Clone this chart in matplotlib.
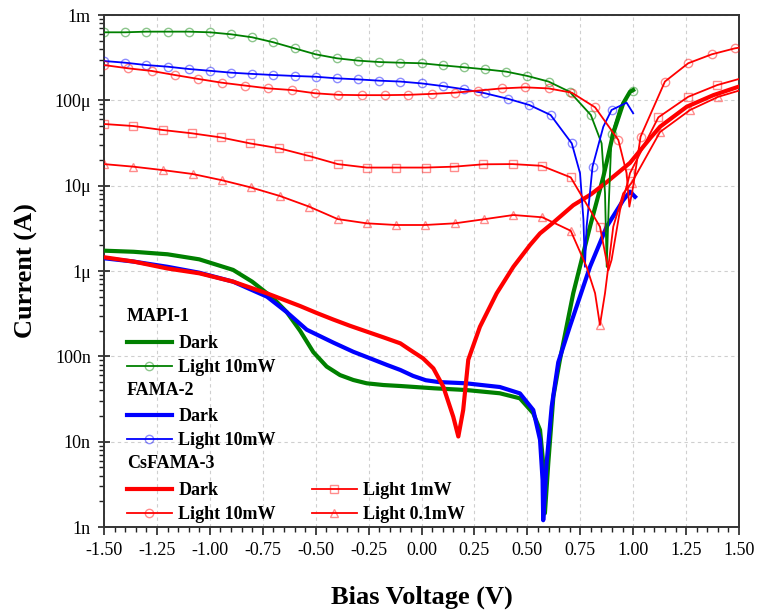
import numpy as np
import matplotlib
matplotlib.use("Agg")
import matplotlib.pyplot as plt
from matplotlib.lines import Line2D
from matplotlib.ticker import FixedLocator, FixedFormatter, MultipleLocator, LogLocator, NullFormatter

# ---------------- data (V in volts, I in microamps) ----------------
# MAPI-1
mapi_dark_v = [-1.50, -1.36, -1.20, -1.05, -0.89, -0.80, -0.70, -0.637, -0.574, -0.511, -0.448, -0.385,
               -0.322, -0.259, -0.18, -0.10, 0.06, 0.21, 0.37, 0.465, 0.528, 0.560, 0.575, 0.583,
               0.599, 0.623, 0.654, 0.717, 0.796, 0.859, 0.906, 0.953, 0.985, 1.00]
mapi_dark_i = [1.73, 1.68, 1.57, 1.37, 1.03, 0.750, 0.479, 0.331, 0.200, 0.112, 0.0759, 0.0603,
               0.0528, 0.0483, 0.0461, 0.0449, 0.0422, 0.0403, 0.0369, 0.0322, 0.0215, 0.0137, 0.00557, 0.00145,
               0.00562, 0.0339, 0.0912, 0.550, 3.31, 12.7, 41.1, 92.3, 126, 132]

mapi_light_v = [-1.50, -1.40, -1.30, -1.20, -1.10, -1.00, -0.90, -0.80, -0.70, -0.60, -0.50, -0.40,
                -0.30, -0.20, -0.10, 0.00, 0.10, 0.20, 0.30, 0.40, 0.50, 0.60, 0.70, 0.80,
                0.851, 0.867, 0.875, 0.885, 0.898, 0.938, 0.985, 1.00]
mapi_light_i = [627, 627, 638, 638, 638, 627, 594, 548, 479, 407, 346, 311,
                292, 281, 276, 272, 257, 244, 231, 217, 193, 166, 126, 67.3,
                31.3, 8.13, 1.12, 6.31, 39.8, 83.2, 123, 130]
mapi_light_mk = [0, 1, 2, 3, 4, 5, 6, 7, 8, 9, 10, 11, 12, 13, 14, 15, 16, 17, 18, 19, 20, 21, 22, 23, 28, 31]

# FAMA-2
fama_dark_v = [-1.50, -1.36, -1.20, -1.05, -0.89, -0.73, -0.637, -0.542, -0.417, -0.322, -0.243, -0.164,
               -0.10, -0.04, 0.02, 0.08, 0.21, 0.37, 0.465, 0.528, 0.560, 0.572, 0.575, 0.591, 0.615,
               0.646, 0.701, 0.796, 0.875, 0.953, 0.985, 1.009]
fama_dark_i = [1.41, 1.29, 1.12, 0.955, 0.750, 0.500, 0.330, 0.205, 0.145, 0.113, 0.0948, 0.0794,
               0.0692, 0.0590, 0.0525, 0.0500, 0.0483, 0.0437, 0.0368, 0.0235, 0.0105, 0.00355, 0.00120, 0.00557, 0.0257,
               0.085, 0.224, 1.12, 3.31, 6.76, 8.51, 7.41]

fama_light_v = [-1.50, -1.40, -1.30, -1.20, -1.10, -1.00, -0.90, -0.80, -0.70, -0.60, -0.50, -0.40,
                -0.30, -0.20, -0.10, 0.00, 0.10, 0.20, 0.30, 0.41, 0.51, 0.61, 0.71, 0.749,
                0.765, 0.772, 0.78, 0.808, 0.859, 0.898, 0.969, 1.00]
fama_light_i = [289, 276, 259, 248, 233, 222, 211, 204, 198, 193, 189, 181,
                176, 170, 166, 158, 147, 135, 121, 104, 88.1, 67.3, 31.3, 14.0,
                4.0, 1.12, 3.31, 16.7, 49.1, 77.1, 93.8, 70.5]
fama_light_mk = [0, 1, 2, 3, 4, 5, 6, 7, 8, 9, 10, 11, 12, 13, 14, 15, 16, 17, 18, 19, 20, 21, 22, 27, 29]

# CsFAMA-3
cs_dark_v = [-1.50, -1.36, -1.20, -1.05, -0.89, -0.73, -0.574, -0.495, -0.417, -0.338, -0.259, -0.18,
             -0.10, -0.054, 0.007, 0.056, 0.103, 0.150, 0.174, 0.197, 0.221, 0.276, 0.355, 0.434,
             0.513, 0.560, 0.623, 0.717, 0.80, 0.875, 0.985, 1.08, 1.127, 1.253, 1.379, 1.50]
cs_dark_i = [1.45, 1.29, 1.07, 0.940, 0.750, 0.547, 0.389, 0.322, 0.270, 0.228, 0.195, 0.167,
             0.142, 0.119, 0.0948, 0.0723, 0.0441, 0.0196, 0.0115, 0.0235, 0.0912, 0.222, 0.547, 1.12,
             2.02, 2.76, 3.7, 5.9, 7.9, 11.0, 18.5, 35.9, 49.1, 84.1, 115, 145]

cs_l10_v = [-1.50, -1.385, -1.275, -1.165, -1.054, -0.944, -0.834, -0.724, -0.613, -0.503, -0.393, -0.283,
            -0.172, -0.062, 0.048, 0.158, 0.268, 0.379, 0.489, 0.600, 0.710, 0.820, 0.930, 0.969,
            0.982, 1.00, 1.035, 1.15, 1.26, 1.371, 1.481, 1.50]
cs_l10_i = [259, 237, 221, 198, 178, 161, 149, 138, 132, 121, 116, 115,
            115, 116, 119, 123, 130, 138, 142, 138, 123, 82.8, 34.3, 14.0,
            5.68, 9.8, 37.5, 166, 272, 346, 407, 414]
cs_l10_mk = [0, 1, 2, 3, 4, 5, 6, 7, 8, 9, 10, 11, 12, 13, 14, 15, 16, 17, 18, 19, 20, 21, 22, 26, 27, 28, 29, 30]

cs_l1_v = [-1.50, -1.362, -1.223, -1.086, -0.949, -0.810, -0.672, -0.535, -0.396, -0.259, -0.120, 0.019,
           0.155, 0.292, 0.430, 0.567, 0.705, 0.843, 0.883, 0.898, 0.938, 0.977, 0.985, 1.119,
           1.26, 1.397, 1.50]
cs_l1_i = [52.8, 50.0, 44.9, 41.1, 36.8, 31.3, 27.4, 22.4, 17.9, 16.3, 16.3, 16.3,
           16.7, 17.8, 17.9, 17.1, 12.5, 3.31, 1.02, 1.35, 5.19, 11.6, 14.0, 63.2,
           110, 151, 178]
cs_l1_mk = [0, 1, 2, 3, 4, 5, 6, 7, 8, 9, 10, 11, 12, 13, 14, 15, 16, 17, 22, 23, 24, 25]

cs_l01_v = [-1.50, -1.362, -1.220, -1.081, -0.944, -0.807, -0.669, -0.531, -0.396, -0.259, -0.120, 0.016,
            0.158, 0.295, 0.434, 0.571, 0.705, 0.780, 0.820, 0.843, 0.867, 0.89, 0.906, 0.953,
            0.993, 1.127, 1.269, 1.402, 1.50]
cs_l01_i = [17.9, 16.7, 15.2, 13.7, 11.6, 9.55, 7.57, 5.68, 4.06, 3.62, 3.46, 3.46,
            3.62, 4.04, 4.53, 4.26, 2.96, 1.12, 0.550, 0.233, 0.550, 1.58, 3.31, 8.13,
            10.8, 42.6, 77.1, 110, 130]
cs_l01_mk = [0, 1, 2, 3, 4, 5, 6, 7, 8, 9, 10, 11, 12, 13, 14, 15, 16, 19, 24, 25, 26, 27]

yticks_vals = [1e-9, 1e-8, 1e-7, 1e-6, 1e-5, 1e-4, 1e-3]
yticks_labels = ["1n", "10n", "100n", "1\u03bc", "10\u03bc", "100\u03bc", "1m"]

# ---------------- style ----------------
plt.rcParams['font.family'] = ['Liberation Serif', 'DejaVu Serif']

GREEN = '#008000'
BLUE = '#0000ff'
RED = '#ff0000'

def mk_col(c, a=0.45):
    rgb = matplotlib.colors.to_rgb(c)
    return (rgb[0], rgb[1], rgb[2], a)

fig = plt.figure(figsize=(7.6, 6.12), dpi=100)
ax = fig.add_axes([104/760, 1-527/612, (739-104)/760, (527-15)/612])

uA = 1e-6
DW = 3.0
LW = 1.3
MS = 6.0

# dark curves
ax.plot(mapi_dark_v, np.array(mapi_dark_i)*uA, color=GREEN, lw=DW, zorder=3, solid_joinstyle='round')
ax.plot(fama_dark_v, np.array(fama_dark_i)*uA, color=BLUE, lw=DW, zorder=4, solid_joinstyle='round')
ax.plot(cs_dark_v, np.array(cs_dark_i)*uA, color=RED, lw=DW, zorder=5, solid_joinstyle='round')

def light(v, i, mk, color, marker):
    ax.plot(v, np.array(i)*uA, color=color, lw=LW, marker=marker, markevery=mk,
            ms=MS, mfc='none', mec=mk_col(color), mew=1.0, zorder=6)

light(mapi_light_v, mapi_light_i, mapi_light_mk, GREEN, 'o')
light(fama_light_v, fama_light_i, fama_light_mk, BLUE, 'o')
light(cs_l10_v, cs_l10_i, cs_l10_mk, RED, 'o')
light(cs_l1_v, cs_l1_i, cs_l1_mk, RED, 's')
light(cs_l01_v, cs_l01_i, cs_l01_mk, RED, '^')

ax.set_yscale('log')
ax.set_xlim(-1.5, 1.5)
ax.set_ylim(1e-9, 1e-3)

ax.xaxis.set_major_locator(MultipleLocator(0.25))
ax.xaxis.set_minor_locator(MultipleLocator(0.05))
ax.xaxis.set_major_formatter(matplotlib.ticker.FormatStrFormatter('%.2f'))
ax.yaxis.set_major_locator(FixedLocator(yticks_vals))
ax.yaxis.set_major_formatter(FixedFormatter(yticks_labels))
ax.yaxis.set_minor_locator(LogLocator(base=10, subs=np.arange(2, 10)))
ax.yaxis.set_minor_formatter(NullFormatter())

ax.tick_params(which='major', direction='out', length=6, width=1.2, labelsize=13, color='#222222', pad=5)
ax.tick_params(which='minor', direction='out', length=3.5, width=1.0, color='#222222')
ax.tick_params(axis='y', which='major', direction='inout', length=9)

for s in ax.spines.values():
    s.set_linewidth(1.4)
    s.set_color('#333333')

ax.grid(True, which='major', linestyle=(0, (3, 3)), color='#cfcfcf', linewidth=0.8)
ax.set_axisbelow(True)

ax.set_xlabel('Bias Voltage (V)', fontsize=19, fontweight='bold', labelpad=19)
ax.set_ylabel('Current (A)', fontsize=19, fontweight='bold', labelpad=12)

# ---------------- legend ----------------
def h_dark(c):
    return Line2D([], [], color=c, lw=DW)

def h_light(c, m):
    return Line2D([], [], color=c, lw=LW, marker=m, ms=MS, mfc='none', mec=mk_col(c), mew=1.0)

common = dict(frameon=False, prop={'weight': 'bold', 'size': 13},
              handlelength=2.5, handletextpad=0.35, borderpad=0.0, borderaxespad=0.0,
              labelspacing=0.38, alignment='left', loc='upper left',
              title_fontproperties={'weight': 'bold', 'size': 13})

leg1 = ax.legend([h_dark(GREEN), h_light(GREEN, 'o')], ['Dark', 'Light 10mW'], title='MAPI-1',
                 bbox_to_anchor=(0.036, 0.427), **common)
ax.add_artist(leg1)
leg2 = ax.legend([h_dark(BLUE), h_light(BLUE, 'o')], ['Dark', 'Light 10mW'], title='FAMA-2',
                 bbox_to_anchor=(0.036, 0.284), **common)
ax.add_artist(leg2)
leg3 = ax.legend([h_dark(RED), h_light(RED, 'o'), h_light(RED, 's'), h_light(RED, '^')],
                 ['Dark', 'Light 10mW', 'Light 1mW', 'Light 0.1mW'], title='CsFAMA-3', ncol=2,
                 columnspacing=2.0, bbox_to_anchor=(0.036, 0.140), **common)
for lg in (leg1, leg2, leg3):
    lg._legend_box.sep = 7

fig.savefig('out.png', dpi=100, facecolor='white')
